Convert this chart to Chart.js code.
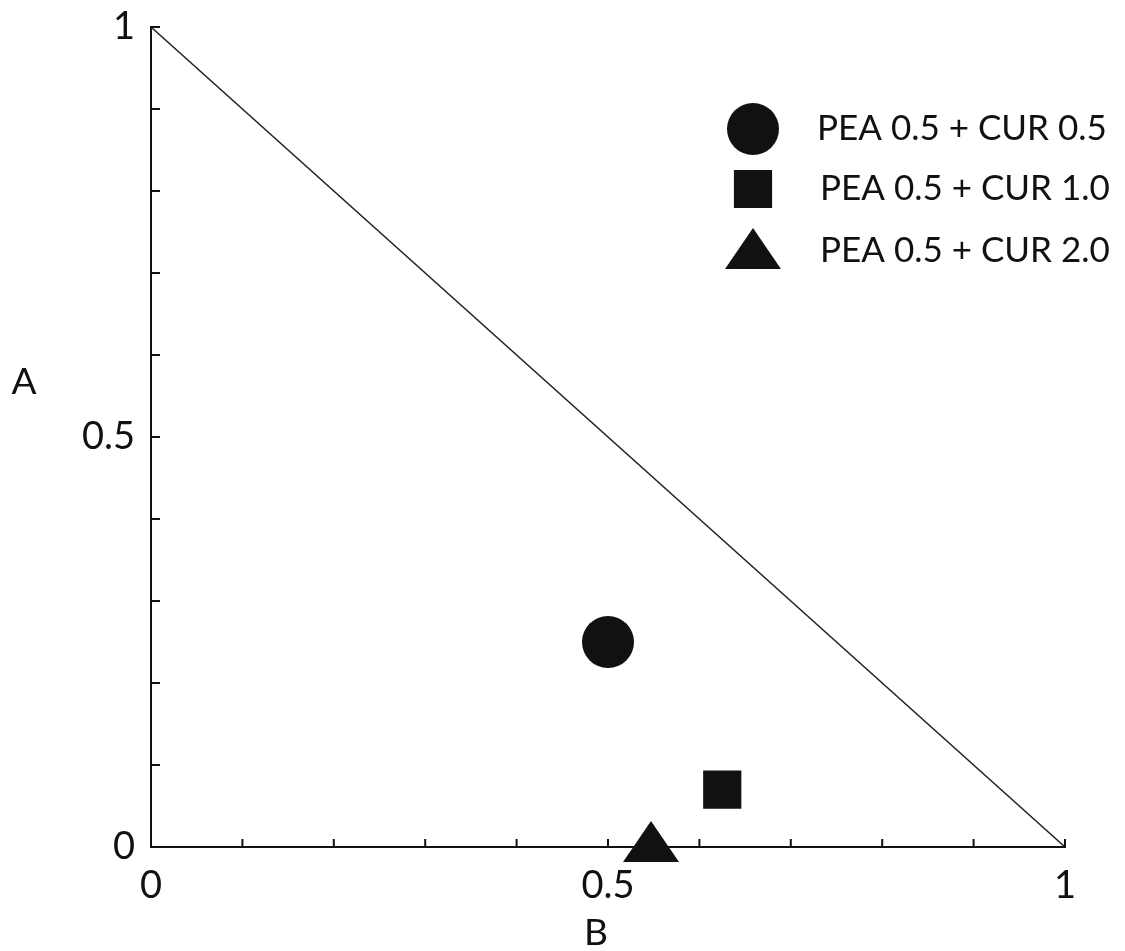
<!DOCTYPE html>
<html>
<head>
<meta charset="utf-8">
<script src="https://cdn.jsdelivr.net/npm/chart.js@4/dist/chart.umd.min.js"></script>
<style>
  body { margin: 0; background: #fff; }
  #wrap { width: 1125px; height: 951px; }
</style>
</head>
<body>
<div id="wrap"><canvas id="ternary_plot" width="1125" height="951"></canvas></div>
<script>
// composition points (B on x, A on y)
const seriesLabels = ['PEA 0.5 + CUR 0.5', 'PEA 0.5 + CUR 1.0', 'PEA 0.5 + CUR 2.0'];
const bValues = [0.5, 0.625, 0.547];
const aValues = [0.25, 0.07, 0];
// A + B = 1 boundary
const boundaryB = [0, 1];
const boundaryA = [1, 0];
// only these ticks get a number
const labelledTicks = [0, 0.5, 1];

const ink = '#111';
const fontFamily = 'Lato, "Open Sans", sans-serif';

// wide flat triangle, image centre sits on the centroid
function triangleMarker(w, h, above) {
    const c = document.createElement('canvas');
    c.width = w;
    c.height = above * 2;
    const g = c.getContext('2d');
    g.fillStyle = ink;
    g.beginPath();
    g.moveTo(w / 2, 0);
    g.lineTo(w, h);
    g.lineTo(0, h);
    g.closePath();
    g.fill();
    return c;
}
const triImg = triangleMarker(56, 41, 26);

const markerStyles = [
    { pointStyle: 'circle', radius: 26 },
    { pointStyle: 'rect', radius: 27 },
    { pointStyle: triImg, radius: 26 }
];

function tickLabel(v) {
    const hit = labelledTicks.find(t => Math.abs(t - v) < 1e-6);
    return hit === undefined ? '' : String(hit);
}

// short tick marks pointing into the plot
const innerTicks = {
    id: 'innerTicks',
    afterDraw(chart) {
        const ctx = chart.ctx;
        const xs = chart.scales.x, ys = chart.scales.y;
        ctx.save();
        ctx.strokeStyle = ink;
        ctx.lineWidth = 2;
        ctx.beginPath();
        xs.ticks.forEach(t => {
            const px = xs.getPixelForValue(t.value);
            ctx.moveTo(px, xs.top);
            ctx.lineTo(px, xs.top - 8);
        });
        ys.ticks.forEach(t => {
            const py = ys.getPixelForValue(t.value);
            ctx.moveTo(ys.right, py);
            ctx.lineTo(ys.right + 9, py);
        });
        ctx.stroke();
        ctx.restore();
    }
};

// upright axis names
const axisNames = {
    id: 'axisNames',
    afterDraw(chart) {
        const ctx = chart.ctx;
        ctx.save();
        ctx.fillStyle = ink;
        ctx.font = '37px ' + fontFamily;
        ctx.textAlign = 'center';
        ctx.textBaseline = 'middle';
        ctx.fillText('A', 24, 382);
        ctx.fillText('B', 596, 933);
        ctx.restore();
    }
};

// legend in the upper right of the plot
const cornerLegend = {
    id: 'cornerLegend',
    afterDraw(chart) {
        const ctx = chart.ctx;
        const rows = [129, 189, 254];
        ctx.save();
        chart.data.datasets.slice(0, 3).forEach((ds, i) => {
            const st = markerStyles[i];
            ctx.fillStyle = ink;
            ctx.strokeStyle = ink;
            Chart.helpers.drawPoint(ctx, {
                pointStyle: st.pointStyle, radius: st.radius, rotation: 0, borderWidth: 0
            }, 753, rows[i]);
            ctx.fillStyle = ink;
            ctx.font = '35px ' + fontFamily;
            ctx.textAlign = 'left';
            ctx.textBaseline = 'middle';
            ctx.fillText(ds.label, i === 0 ? 817 : 820, rows[i] - (i === 2 ? 3 : 0));
        });
        ctx.restore();
    }
};

const pointSets = seriesLabels.map((label, i) => ({
    label: label,
    type: 'scatter',
    data: [{ x: bValues[i], y: aValues[i] }],
    pointStyle: markerStyles[i].pointStyle,
    pointRadius: markerStyles[i].radius,
    pointHoverRadius: markerStyles[i].radius,
    backgroundColor: ink,
    borderColor: ink,
    borderWidth: 0,
    clip: false
}));

new Chart(document.getElementById('ternary_plot').getContext('2d'), {
    type: 'scatter',
    data: {
        datasets: pointSets.concat([{
            label: '',
            type: 'line',
            data: boundaryB.map((b, i) => ({ x: b, y: boundaryA[i] })),
            borderColor: '#222',
            borderWidth: 1.6,
            pointRadius: 0,
            fill: false,
            clip: false
        }])
    },
    options: {
        responsive: false,
        animation: false,
        layout: { padding: { top: 22, right: 60, left: 0, bottom: 0 } },
        plugins: {
            legend: { display: false },
            tooltip: { enabled: false }
        },
        scales: {
            x: {
                type: 'linear',
                min: 0,
                max: 1,
                afterFit: s => { s.height = 104; s.paddingLeft = 0; s.paddingRight = 0; },
                ticks: {
                    stepSize: 0.1,
                    autoSkip: false,
                    maxRotation: 0,
                    padding: 16,
                    color: ink,
                    font: { family: fontFamily, size: 38 },
                    callback: v => tickLabel(v)
                },
                grid: { display: true, drawOnChartArea: false, drawTicks: false },
                border: { display: true, color: ink, width: 2 }
            },
            y: {
                type: 'linear',
                min: 0,
                max: 1,
                afterFit: s => { s.width = 151; s.paddingTop = 0; s.paddingBottom = 0; },
                ticks: {
                    stepSize: 0.1,
                    autoSkip: false,
                    padding: 16,
                    color: ink,
                    font: { family: fontFamily, size: 38 },
                    callback: v => tickLabel(v)
                },
                grid: { display: true, drawOnChartArea: false, drawTicks: false },
                border: { display: true, color: ink, width: 2 }
            }
        }
    },
    plugins: [innerTicks, axisNames, cornerLegend]
});
</script>
</body>
</html>
